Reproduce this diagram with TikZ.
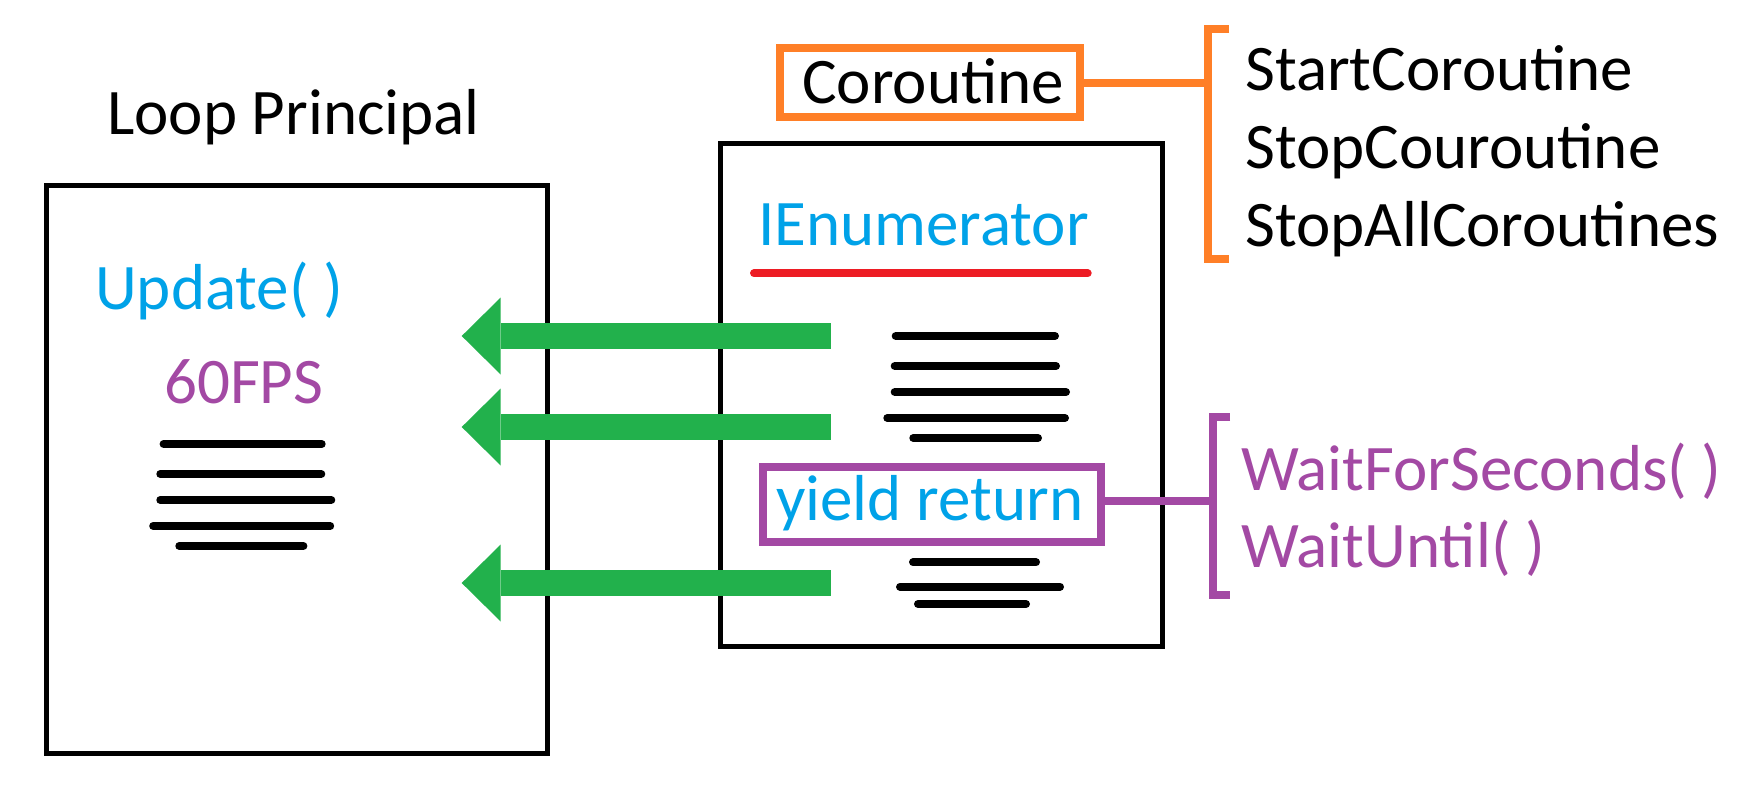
\documentclass[tikz,border=0pt]{standalone}
\usepackage{fontspec}
\setmainfont{Carlito}
\usetikzlibrary{arrows.meta}
\definecolor{pgreen}{HTML}{22B14C}
\definecolor{pcyan}{HTML}{00A2E8}
\definecolor{ppurple}{HTML}{A349A4}
\definecolor{porange}{HTML}{FF7F27}
\definecolor{pred}{HTML}{ED1C24}
\begin{document}
\begin{tikzpicture}[x=1pt,y=-1pt,
  lbl/.style={anchor=base west, inner sep=0pt, font=\fontsize{65}{78}\selectfont},
  panel/.style={draw=black, line width=5pt, rectangle, inner sep=0pt},
  tagbox/.style={rectangle, inner sep=0pt, line width=8pt},
  textline/.style={line width=8pt, line cap=round},
  bracket/.style={line width=8pt, line join=miter},
  flow/.style={draw=pgreen, line width=26pt, -{Triangle[length=39pt, width=77pt, line width=0pt]}}]
\useasboundingbox[fill=white] (0,0) rectangle (1750,797);

% panels
\node[panel, minimum width=500.6pt, minimum height=567.5pt] (loop) at (297,469.25) {};
\node[panel, minimum width=441.7pt, minimum height=502.5pt] (cor) at (941.15,394.75) {};

% labels
\node[lbl] (looplbl) at (107,134.3) {Loop Principal};
\node[lbl, text=pcyan] (upd) at (95,309) {Update( )};
\node[lbl, text=ppurple] (fps) at (164,403) {60FPS};
\node[lbl, text=pcyan] (ienum) at (758,245.7) {IEnumerator};

% tag boxes
\node[tagbox, draw=porange, minimum width=300pt, minimum height=68.7pt] (coro) at (930,82.35) {};
\node[lbl] (corolbl) at (802,104) {Coroutine};
\node[tagbox, draw=ppurple, minimum width=338pt, minimum height=74.7pt] (yb) at (932,504.65) {};
\node[lbl, text=pcyan] (yieldlbl) at (776,520) {yield return};

% red underline
\draw[textline, pred] (754,273.3) -- (1087.7,273.3);

% text lines, left panel
\draw[textline] (163.6,444) -- (321.7,444);
\draw[textline] (160.3,474) -- (321.3,474);
\draw[textline] (160.3,500) -- (331.3,500);
\draw[textline] (153.2,526) -- (330.2,526);
\draw[textline] (179.3,546) -- (303.4,546);

% text lines, right panel
\draw[textline] (895.7,336) -- (1055,336);
\draw[textline] (894.7,366) -- (1056,366);
\draw[textline] (894.7,392) -- (1066,392);
\draw[textline] (887.3,418) -- (1065,418);
\draw[textline] (913.3,438) -- (1038,438);
\draw[textline] (913,562.3) -- (1036,562.3);
\draw[textline] (900,586.7) -- (1060,586.7);
\draw[textline] (918,604) -- (1026,604);

% brackets
\coordinate (ob) at (1208,83);
\draw[bracket, porange] (1229,29) -- (1208,29) -- (1208,259) -- (1229,259);
\draw[porange, line width=8pt] (coro.east |- ob) -- (ob);
\coordinate (pb) at (1213,501);
\draw[bracket, ppurple] (1230,416.5) -- (1213,416.5) -- (1213,595) -- (1230,595);
\draw[ppurple, line width=8pt] (yb.east |- pb) -- (pb);

% method labels
\node[lbl] (m1) at (1245,91) {StartCoroutine};
\node[lbl] (m2) at (1245,168.3) {StopCouroutine};
\node[lbl] (m3) at (1245,246) {StopAllCoroutines};
\node[lbl, text=ppurple] (w1) at (1241,490.7) {WaitForSeconds( )};
\node[lbl, text=ppurple] (w2) at (1241,567.3) {WaitUntil( )};

% green arrows
\coordinate (a1s) at (830.7,336); \coordinate (a1e) at (461.7,336);
\coordinate (a2s) at (830.7,427); \coordinate (a2e) at (461.7,427);
\coordinate (a3s) at (830.7,583); \coordinate (a3e) at (461.7,583);
\draw[flow] (a1s) -- (a1e);
\draw[flow] (a2s) -- (a2e);
\draw[flow] (a3s) -- (a3e);
\end{tikzpicture}
\end{document}
